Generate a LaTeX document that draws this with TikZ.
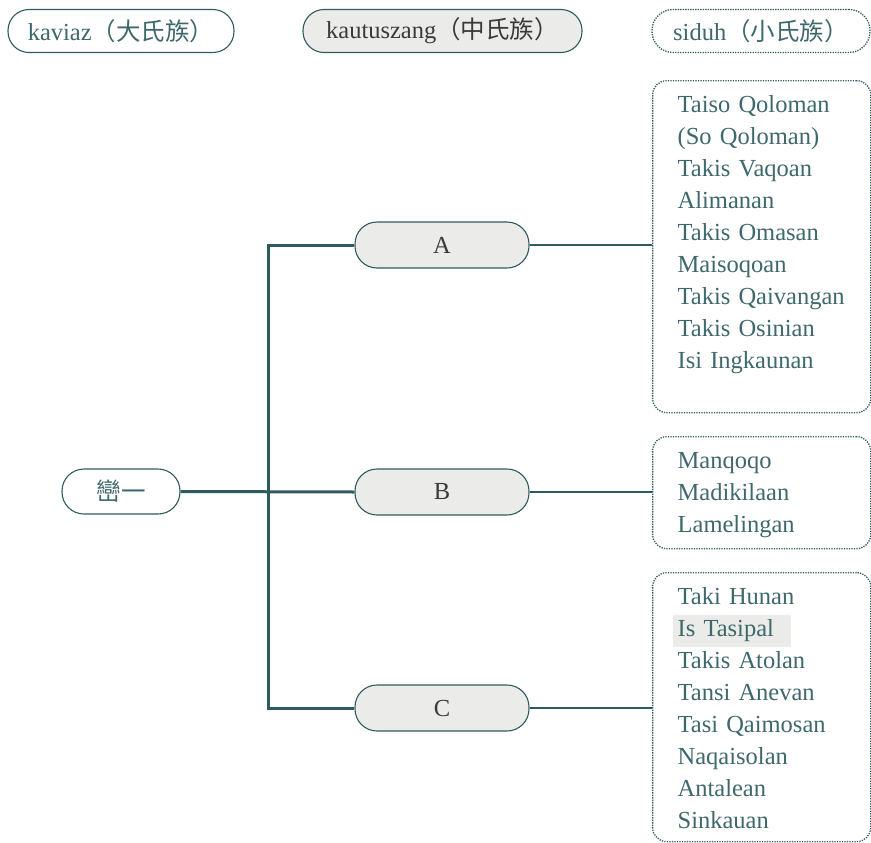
\documentclass[tikz,border=0pt]{standalone}
\usepackage{fontspec}
\setmainfont{Liberation Serif}
\newfontfamily\cjk{Noto Sans CJK TC}
\usetikzlibrary{positioning}
\definecolor{clanteal}{HTML}{2F5B5F}
\definecolor{clantext}{HTML}{3E686B}
\definecolor{clanfill}{HTML}{EBECE9}
\definecolor{clandark}{HTML}{3A3A3A}
\newcommand{\hlname}[1]{{\setlength{\fboxsep}{5bp}\hspace*{-5bp}\colorbox{clanfill}{#1\hspace{12bp}}}}

\begin{document}
\begin{tikzpicture}[x=1bp,y=1bp]
                \tikzstyle{every node}+=[inner sep=0pt,font=\fontsize{24.5bp}{32bp}\selectfont]
                \tikzstyle{pill}=[draw=clanteal,line width=1.1bp,rounded corners=21bp,text=clantext]
                \tikzstyle{greypill}=[pill,fill=clanfill,text=clandark]
                \tikzstyle{dotbox}=[draw=clanteal,line width=1.3bp,dash pattern=on 1.3bp off 1.2bp,rounded corners=14bp,text=clantext]
                \tikzstyle{listbox}=[dotbox,anchor=north west,text width=168bp,inner xsep=25bp,inner ysep=16bp,align=left,text height=16bp]
                \tikzstyle{trunk}=[draw=clanteal,line width=3bp]
                \tikzstyle{twig}=[draw=clanteal,line width=1.2bp]
                \useasboundingbox (0,0) rectangle (871,-843);
                \node [pill,minimum width=226bp,minimum height=43bp] (kaviaz) at (121,-31) {kaviaz{\cjk（大氏族）}};
                \node [greypill,minimum width=279bp,minimum height=43bp] (kautuszang) at (442.5,-31) {kautuszang{\cjk（中氏族）}};
                \node [dotbox,rounded corners=21bp,minimum width=218bp,minimum height=43bp] (siduh) at (761,-31) {siduh{\cjk（小氏族）}};
                \node [pill,minimum width=118bp,minimum height=45bp,rounded corners=22bp] (root) at (121,-491.5) {\cjk 巒一};
                \node [greypill,minimum width=174bp,minimum height=46bp,rounded corners=22bp] (A) at (442,-245) {A};
                \node [greypill,minimum width=174bp,minimum height=46bp,rounded corners=22bp] (B) at (442,-492) {B};
                \node [greypill,minimum width=174bp,minimum height=46bp,rounded corners=22bp] (C) at (442,-708) {C};
                \node [listbox,text depth=284bp] (smallA) at (652,-80) {Taiso~Qoloman\\(So~Qoloman)\\Takis~Vaqoan\\Alimanan\\Takis~Omasan\\Maisoqoan\\Takis~Qaivangan\\Takis~Osinian\\Isi~Ingkaunan};
                \node [listbox,text depth=64bp] (smallB) at (652,-436) {Manqoqo\\Madikilaan\\Lamelingan};
                \node [listbox,text depth=221bp] (smallC) at (652,-572) {Taki~Hunan\\\hlname{Is Tasipal}\\Takis~Atolan\\Tansi~Anevan\\Tasi~Qaimosan\\Naqaisolan\\Antalean\\Sinkauan};
                \coordinate (fork) at (268,-491.5);
                \draw [trunk] (root.east) -- (B.west);
                \draw [trunk] (A.west) -| (fork) |- (C.west);
                \draw [twig] (A.east) -- (A -| smallA.west);
                \draw [twig] (B.east) -- (B -| smallB.west);
                \draw [twig] (C.east) -- (C -| smallC.west);
            \end{tikzpicture}
\end{document}
